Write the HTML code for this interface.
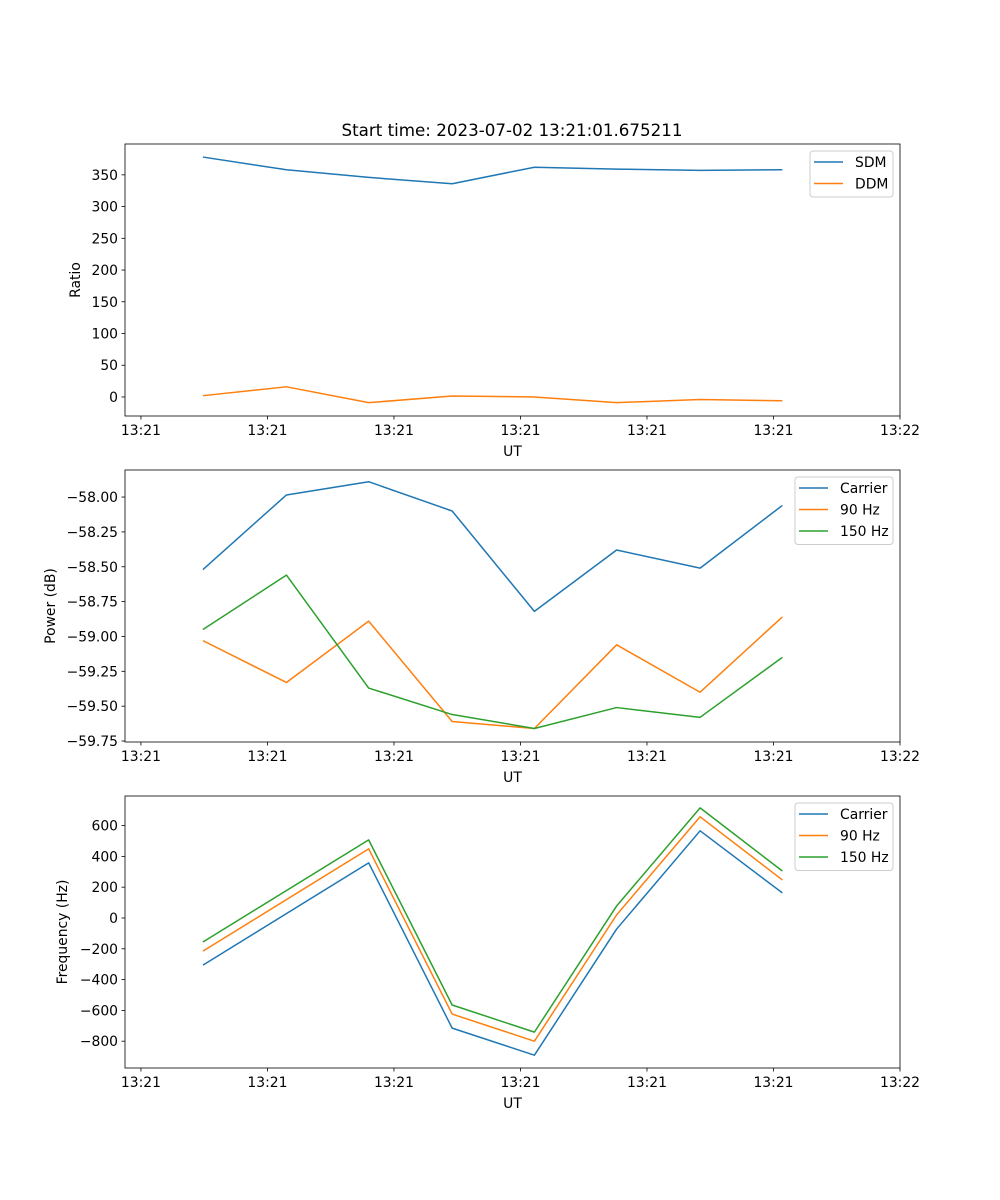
<!DOCTYPE html>
<html><head><meta charset="utf-8"><style>
body{margin:0;background:#fff}
svg{display:block;font-family:"DejaVu Sans","Liberation Sans",sans-serif}
</style></head><body>
<svg id="fig" width="1000" height="1200" viewBox="0 0 1000 1200"></svg>
<script>
// Shared x positions (seconds from axis origin)
const timesA = [4.9, 11.5, 18.0, 24.6, 31.1, 37.6, 44.2, 50.7];
const timesB = [4.9, 18.0, 24.6, 31.1, 37.6, 44.2, 50.7];
const xTickVals = [0, 10, 20, 30, 40, 50, 60];
const xTickLabels = ["13:21","13:21","13:21","13:21","13:21","13:21","13:22"];
// Plot 1: ratio
const sdm = [378, 358, 346, 336, 362, 359, 357, 358];
const ddm = [2, 16, -9, 1.5, 0, -9, -4, -6];
const ratioTicks = [0, 50, 100, 150, 200, 250, 300, 350];
// Plot 2: power
const powCarrier = [-58.52, -57.985, -57.89, -58.10, -58.82, -58.38, -58.51, -58.06];
const pow90 = [-59.03, -59.33, -58.89, -59.61, -59.66, -59.06, -59.40, -58.86];
const pow150 = [-58.95, -58.56, -59.37, -59.56, -59.66, -59.51, -59.58, -59.15];
const powTicks = [-58.0, -58.25, -58.5, -58.75, -59.0, -59.25, -59.5, -59.75];
// Plot 3: frequency
const freqCarrier = [-306, 358, -715, -891, -72, 566, 163];
const freq90 = [-215, 449, -624, -800, 20, 657, 247];
const freq150 = [-156, 507, -565, -741, 78, 715, 305];
const freqTicks = [-800, -600, -400, -200, 0, 200, 400, 600];

const NS = "http://www.w3.org/2000/svg";
const svg = document.getElementById("fig");
const L = 125, R = 900, X0 = -1.26, X1 = 60;
function xs(v){ return L + (v - X0) / (X1 - X0) * (R - L); }
function mk(tag, attrs, parent){
  const e = document.createElementNS(NS, tag);
  for (const k in attrs) e.setAttribute(k, attrs[k]);
  (parent || svg).appendChild(e);
  return e;
}
const C = ["#1f77b4", "#ff7f0e", "#2ca02c"];

function panel(name, top, bot, ymin, ymax, yticks, fmt, ylabel, ylabelX, series, legend, legX, legW){
  const g = mk("g", {});
  
  
  const ys = v => bot - (v - ymin) / (ymax - ymin) * (bot - top);
  series.forEach((s, i) => {
    const pts = s.v.map((v, j) => xs(s.t[j]).toFixed(2) + "," + ys(v).toFixed(2)).join(" ");
    const p = mk("polyline", {points: pts, fill: "none", stroke: C[i], "stroke-width": 1.5, "stroke-linejoin": "round"}, g);
    
    
  });
  const fr = mk("rect", {x: L, y: top, width: R - L, height: bot - top, fill: "none", stroke: "#000", "stroke-width": 0.8}, g);
  
  
  xTickVals.forEach((v, i) => {
    const x = xs(v);
    mk("line", {x1: x, x2: x, y1: bot, y2: bot + 3.5, stroke: "#000", "stroke-width": 0.8}, g);
    const t = mk("text", {x: x, y: bot + 19, "font-size": 13.9, "text-anchor": "middle"}, g);
    t.textContent = xTickLabels[i];
    
    
  });
  yticks.forEach(v => {
    const y = ys(v);
    mk("line", {x1: L - 3.5, x2: L, y1: y, y2: y, stroke: "#000", "stroke-width": 0.8}, g);
    const t = mk("text", {x: L - 7, y: y + 5, "font-size": 13.9, "text-anchor": "end"}, g);
    t.textContent = fmt(v);
    
    
  });
  const xl = mk("text", {x: (L + R) / 2, y: bot + 40, "font-size": 13.9, "text-anchor": "middle"}, g);
  xl.textContent = "UT";
  
  
  const yl = mk("text", {x: ylabelX, y: (top + bot) / 2, "font-size": 13.9, "text-anchor": "middle", transform: `rotate(-90 ${ylabelX} ${(top + bot) / 2})`}, g);
  yl.textContent = ylabel;
  
  
  // legend
  const lg = mk("g", {}, g);
  
  
  const lh = 3 + legend.length * 21.5;
  mk("rect", {x: legX, y: top + 7, width: legW, height: lh, rx: 3, fill: "#fff", "fill-opacity": 0.8, stroke: "#ccc", "stroke-width": 1}, lg);
  legend.forEach((n, i) => {
    const yy = top + 18 + i * 21.5;
    const ln = mk("line", {x1: legX + 4, x2: legX + 33, y1: yy, y2: yy, stroke: C[i], "stroke-width": 1.5}, lg);
    
    
    const t = mk("text", {x: legX + 45, y: yy + 5, "font-size": 13.9}, lg);
    t.textContent = n;
    
    
  });
}
const m = s => String(s).replace("-", "\u2212");

const title = mk("text", {x: 512, y: 136, "font-size": 16.7, "text-anchor": "middle"});
title.textContent = "Start time: 2023-07-02 13:21:01.675211";



panel("ratio-panel", 144, 416, -30, 398.6, ratioTicks, v => m(v), "Ratio", 80,
  [{name: "sdm-line", t: timesA, v: sdm}, {name: "ddm-line", t: timesA, v: ddm}],
  ["SDM", "DDM"], 810, 83);
panel("power-panel", 470, 742, -59.757, -57.806, powTicks, v => m(v.toFixed(2)), "Power (dB)", 55,
  [{name: "carrier-power-line", t: timesA, v: powCarrier}, {name: "90hz-power-line", t: timesA, v: pow90}, {name: "150hz-power-line", t: timesA, v: pow150}],
  ["Carrier", "90 Hz", "150 Hz"], 795, 98);
panel("frequency-panel", 796, 1068, -974, 792, freqTicks, v => m(v), "Frequency (Hz)", 67,
  [{name: "carrier-freq-line", t: timesB, v: freqCarrier}, {name: "90hz-freq-line", t: timesB, v: freq90}, {name: "150hz-freq-line", t: timesB, v: freq150}],
  ["Carrier", "90 Hz", "150 Hz"], 795, 98);
</script>
</body></html>
